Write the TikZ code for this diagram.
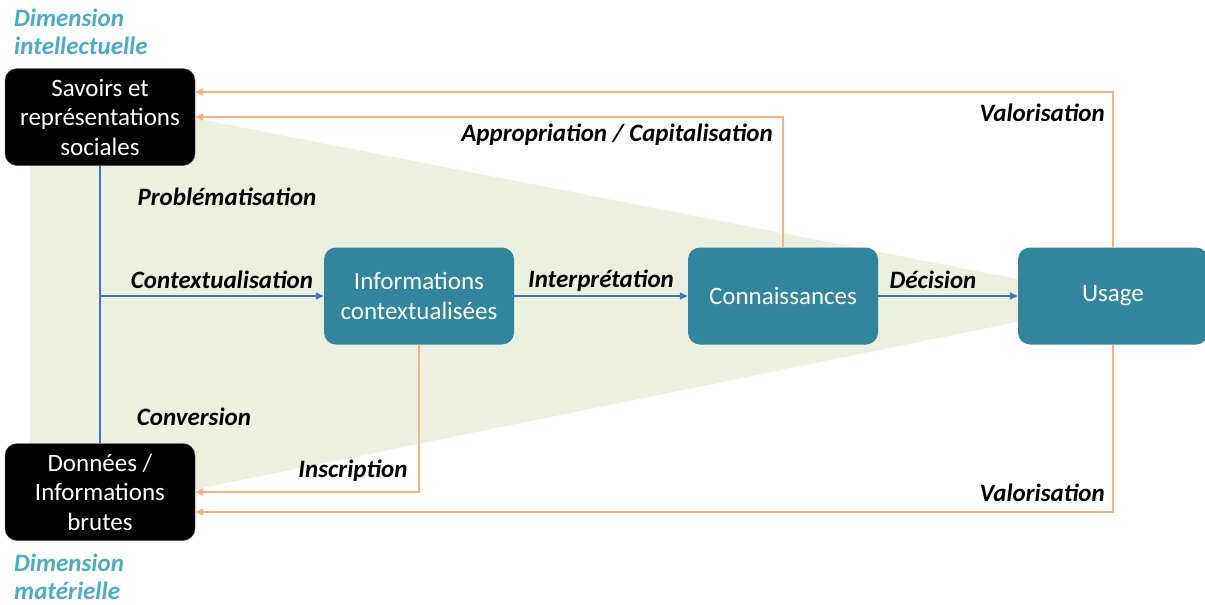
\documentclass[tikz,border=0pt]{standalone}
\usepackage{fontspec}
\setmainfont{Carlito}
\usepackage{tikz}
\usetikzlibrary{arrows.meta, positioning, calc}
\definecolor{tealbox}{HTML}{31859C}
\definecolor{flowblue}{HTML}{4472C4}
\definecolor{backorange}{HTML}{F4B183}
\definecolor{zonegreen}{HTML}{EBF1DE}
\definecolor{dimblue}{HTML}{4BACC6}
\begin{document}
\begin{tikzpicture}[x=1pt, y=-1pt, >={Triangle[length=8pt, width=7pt]},
  box/.style={rounded corners=12pt, text=white, align=center, inner sep=0pt,
    minimum width=190pt, minimum height=97pt, font=\fontsize{25}{29.5}\selectfont},
  darkbox/.style={box, fill=black, draw=black!70},
  lightbox/.style={box, fill=tealbox},
  flow/.style={flowblue, line width=1.2pt},
  back/.style={backorange, line width=1.4pt},
  lbl/.style={font=\fontsize{25}{28}\selectfont\bfseries\itshape, inner sep=0pt},
  dim/.style={lbl, text=dimblue, align=left, anchor=west}]
\useasboundingbox (0,0) rectangle (1205,605);
\fill[white] (0,0) rectangle (1205,605);
% zone between the two dimensions
\fill[zonegreen] (30,86) -- (1125,300) -- (30,523) -- cycle;

% boxes
\node[darkbox] (sav) at (100,117) {Savoirs et\\représentations\\sociales};
\node[darkbox] (don) at (100,492) {Données /\\Informations\\brutes};
\node[lightbox] (info) at (419,296) {Informations\\contextualisées};
\node[lightbox] (conn) at (783,296) {Connaissances};
\node[lightbox] (use) at (1113,296) {Usage};

% forward flow
\draw[flow] (sav.south) -- (don.north);
\coordinate (ctx) at (100,296);
\draw[flow, ->] (ctx) -- (info.west);
\draw[flow, ->] (info) -- (conn);
\draw[flow, ->] (conn) -- (use);

% feedback
\draw[back, ->] (use.north) |- ([yshift=25pt]sav.east);
\draw[back, ->] (conn.north) |- (sav.east);
\draw[back, ->] (info.south) |- (don.east);
\draw[back, ->] (use.south) |- ([yshift=-20pt]don.east);

% labels
\node[dim] (dimint) at (14,32) {Dimension\\intellectuelle};
\node[dim] (dimmat) at (14,577) {Dimension\\matérielle};
\node[lbl] (prob) at (227,197) {Problématisation};
\node[lbl] (ctxl) at (222,280) {Contextualisation};
\node[lbl] (conv) at (194,417) {Conversion};
\node[lbl] (interp) at (601,281) {Interprétation};
\node[lbl] (dec) at (933,280) {Décision};
\node[lbl] (appr) at (617,135) {Appropriation / Capitalisation};
\node[lbl] (insc) at (353,471) {Inscription};
\node[lbl, anchor=east] (valh) at (1105,113) {Valorisation};
\node[lbl, anchor=east] (valb) at (1105,493) {Valorisation};
\end{tikzpicture}
\end{document}
